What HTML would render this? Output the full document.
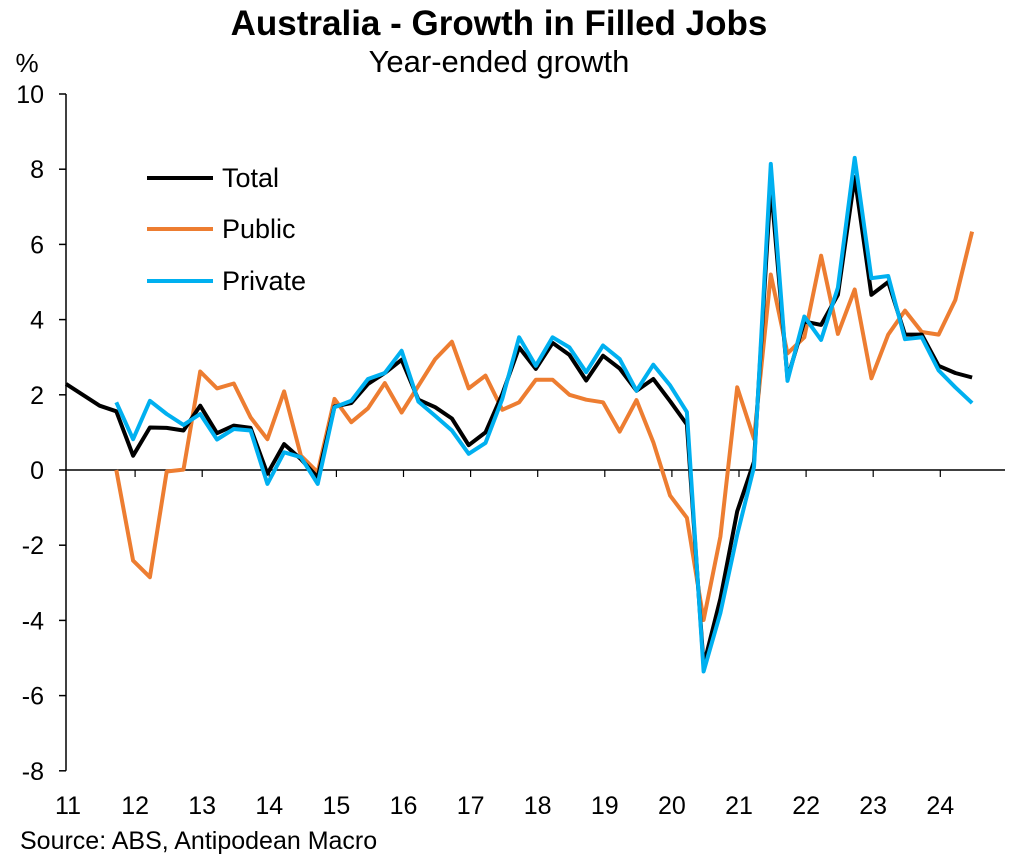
<!DOCTYPE html>
<html><head><meta charset="utf-8"><style>
body{margin:0;background:#fff;}
svg{display:block;font-family:"Liberation Sans",Arial,sans-serif;}
</style></head><body>
<svg id="chart" width="1017" height="862" viewBox="0 0 1017 862">
<text x="499" y="35" text-anchor="middle" font-size="35" font-weight="bold">Australia - Growth in Filled Jobs</text>
<text x="499" y="72" text-anchor="middle" font-size="31">Year-ended growth</text>
<text x="27" y="72" text-anchor="middle" font-size="26">%</text>
<text x="20" y="849" font-size="25">Source: ABS, Antipodean Macro</text>
<g id="axes"></g>
<g id="series"></g>
<g>
<line x1="147" y1="178" x2="213" y2="178" stroke="#000" stroke-width="4"/>
<text x="222" y="187" font-size="27">Total</text>
<line x1="147" y1="229" x2="213" y2="229" stroke="#ED7D31" stroke-width="4"/>
<text x="222" y="238" font-size="27">Public</text>
<line x1="147" y1="281" x2="213" y2="281" stroke="#00B0F0" stroke-width="4"/>
<text x="222" y="290" font-size="27">Private</text>
</g>
</svg>
<script>
const yearLabels=["11","12","13","14","15","16","17","18","19","20","21","22","23","24"];
const yTicks=[10,8,6,4,2,0,-2,-4,-6,-8];
const total=[2.29,2.0,1.71,1.56,0.38,1.13,1.12,1.05,1.71,0.98,1.18,1.12,-0.1,0.69,0.29,-0.2,1.69,1.78,2.29,2.58,2.93,1.87,1.67,1.37,0.66,1.0,2.02,3.26,2.69,3.38,3.06,2.38,3.04,2.7,2.11,2.42,1.83,1.21,-5.2,-3.42,-1.1,0.22,7.6,2.44,3.95,3.86,4.66,7.79,4.66,5.0,3.6,3.6,2.77,2.58,2.46];
const publicS=[null,null,null,0,-2.41,-2.85,-0.04,0.01,2.62,2.17,2.3,1.4,0.82,2.09,0.38,-0.06,1.89,1.27,1.64,2.31,1.53,2.24,2.95,3.41,2.17,2.51,1.6,1.8,2.4,2.4,2.0,1.87,1.8,1.02,1.86,0.74,-0.68,-1.27,-3.99,-1.77,2.2,0.83,5.2,3.1,3.53,5.7,3.62,4.8,2.44,3.6,4.24,3.67,3.6,4.52,6.34];
const privateS=[null,null,null,1.8,0.82,1.84,1.49,1.2,1.49,0.81,1.09,1.05,-0.37,0.47,0.34,-0.37,1.67,1.84,2.42,2.58,3.17,1.82,1.44,1.05,0.43,0.72,1.89,3.53,2.77,3.53,3.26,2.6,3.31,2.95,2.11,2.8,2.25,1.54,-5.36,-3.8,-1.72,0.08,8.14,2.37,4.08,3.46,4.85,8.3,5.1,5.16,3.48,3.53,2.65,2.2,1.78];
const NS="http://www.w3.org/2000/svg";
const X0=66,DX=16.78,Y0=470,SY=37.6;
function xs(i){return X0+i*DX;}
function ys(v){return Y0-v*SY;}
function mk(tag,attrs,parent){const e=document.createElementNS(NS,tag);for(const k in attrs)e.setAttribute(k,attrs[k]);parent.appendChild(e);return e;}
const axes=document.getElementById('axes');
const yax=mk('line',{x1:X0,y1:ys(10),x2:X0,y2:ys(-8),stroke:'#000','stroke-width':1.5},axes);


yTicks.forEach(v=>{
  const t=mk('line',{x1:X0-7,y1:ys(v),x2:X0,y2:ys(v),stroke:'#000','stroke-width':1.5},axes);
  
  
  const l=mk('text',{x:X0-22,y:ys(v)+9,'text-anchor':'end','font-size':25},axes);
  l.textContent=v;
  
  
});
const xax=mk('line',{x1:X0,y1:Y0,x2:1005,y2:Y0,stroke:'#000','stroke-width':1.5},axes);


yearLabels.forEach((lab,k)=>{
  const x=68+k*67.1;
  if(k>0){const t=mk('line',{x1:x,y1:Y0,x2:x,y2:Y0+7,stroke:'#000','stroke-width':1.2},axes);
  
  }
  const l=mk('text',{x:x,y:814,'text-anchor':'middle','font-size':25},axes);
  l.textContent=lab;
  
  
});
const sg=document.getElementById('series');
function draw(arr,color,name){
  let d='';let pen=false;
  arr.forEach((v,i)=>{if(v===null){pen=false;return;}d+=(pen?'L':'M')+xs(i).toFixed(1)+','+ys(v).toFixed(1);pen=true;});
  const p=mk('path',{d:d,fill:'none',stroke:color,'stroke-width':4,'stroke-linejoin':'round'},sg);
  
  
}
draw(publicS,'#ED7D31','public-line');
draw(total,'#000000','total-line');
draw(privateS,'#00B0F0','private-line');
</script>
</body></html>
